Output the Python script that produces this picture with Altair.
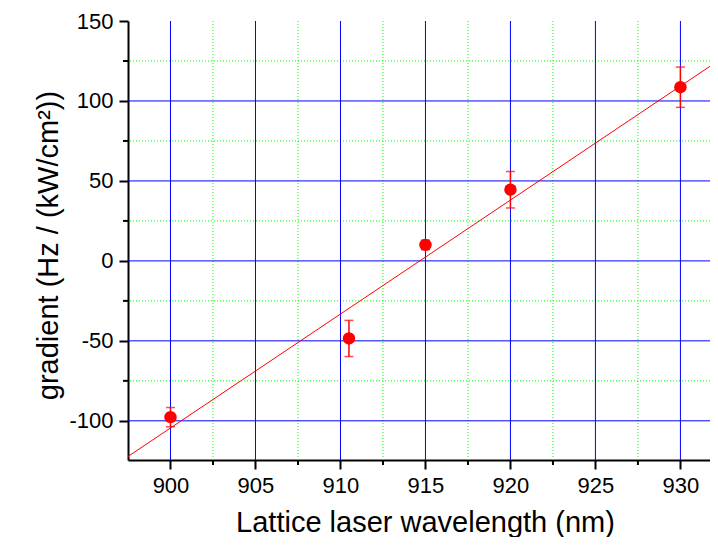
import altair as alt
import pandas as pd

# ---- data ----
wavelength = [900.0, 910.5, 915.0, 920.0, 930.0]
gradient = [-97.7, -48.5, 10.0, 44.5, 108.6]
gradient_err = [6.0, 11.3, 3.0, 11.4, 12.6]

fit_wavelength = [897.5, 932.5]
fit_gradient = [-122.3, 127.1]

x_major = [900, 905, 910, 915, 920, 925, 930]
x_minor = [902.5, 907.5, 912.5, 917.5, 922.5, 927.5]
y_major_ticks = [-100, -50, 0, 50, 100, 150]
y_major_grid = [-100, -50, 0, 50, 100]
y_minor = [-75, -25, 25, 75, 125]

X_DOMAIN = [897.5, 931.74]
Y_DOMAIN = [-124.5, 150]
W, H = 582, 439
FONT = "Liberation Sans"
RED = "#FF0000"

pts = pd.DataFrame({
    "x": wavelength,
    "y": gradient,
    "lo": [g - e for g, e in zip(gradient, gradient_err)],
    "hi": [g + e for g, e in zip(gradient, gradient_err)],
})
fit = pd.DataFrame({"x": fit_wavelength, "y": fit_gradient})
xmaj = pd.DataFrame({"x": x_major})
xmin = pd.DataFrame({"x": x_minor})
ymaj = pd.DataFrame({"y": y_major_grid})
ymin = pd.DataFrame({"y": y_minor})

xs = alt.Scale(domain=X_DOMAIN, nice=False, zero=False)
ys = alt.Scale(domain=Y_DOMAIN, nice=False, zero=False)

x_axis = alt.Axis(values=x_major, title="Lattice laser wavelength (nm)",
                  labelExpr="'' + datum.value", titlePadding=12, labelPadding=6,
                  labelFlush=False, titleX=297)
y_axis = alt.Axis(values=y_major_ticks, title="gradient (Hz / (kW/cm²))",
                  labelExpr="'' + datum.value", titlePadding=5, labelPadding=6,
                  labelFlush=False, titleY=224)


def X(field):
    return alt.X(field, type="quantitative", scale=xs, axis=x_axis)


def Y(field):
    return alt.Y(field, type="quantitative", scale=ys, axis=y_axis)


green_v = alt.Chart(xmin).mark_rule(color="#00FF00", strokeWidth=1, strokeDash=[1, 2]).encode(
    x=X("x"))
green_h = alt.Chart(ymin).mark_rule(color="#00FF00", strokeWidth=1, strokeDash=[1, 2]).encode(
    y=Y("y"))
blue_v = alt.Chart(xmaj).mark_rule(color="#0000FF", strokeWidth=1).encode(x=X("x"))
blue_h = alt.Chart(ymaj).mark_rule(color="#0000FF", strokeWidth=1).encode(y=Y("y"))

minor_tick_x = alt.Chart(xmin).mark_rule(color="black", strokeWidth=2).encode(
    x=X("x"), y=alt.value(H), y2=alt.value(H + 5))
minor_tick_y = alt.Chart(ymin).mark_rule(color="black", strokeWidth=2).encode(
    y=Y("y"), x=alt.value(0), x2=alt.value(-5))

fit_line = alt.Chart(fit).mark_line(color=RED, strokeWidth=1, clip=True).encode(
    x=X("x"), y=Y("y"))

err_rule = alt.Chart(pts).mark_rule(color=RED, strokeWidth=1.5).encode(
    x=X("x"), y=Y("lo"), y2="hi:Q")
cap_lo = alt.Chart(pts).mark_tick(color=RED, orient="horizontal", size=9, thickness=1.5).encode(
    x=X("x"), y=Y("lo"))
cap_hi = alt.Chart(pts).mark_tick(color=RED, orient="horizontal", size=9, thickness=1.5).encode(
    x=X("x"), y=Y("hi"))

points = alt.Chart(pts).mark_circle(color=RED, size=155, opacity=1).encode(
    x=X("x"), y=Y("y"))

chart = alt.layer(
    green_v, green_h, blue_v, blue_h, minor_tick_x, minor_tick_y,
    fit_line, err_rule, cap_lo, cap_hi, points
).properties(
    width=W, height=H,
    autosize=alt.AutoSizeParams(type="none"),
    padding={"left": 120, "top": 13, "right": 0, "bottom": 77},
    background="white",
).configure_view(strokeWidth=0).configure_axis(
    grid=False,
    labelFont=FONT, labelFontSize=22, labelColor="black",
    titleFont=FONT, titleFontSize=29, titleFontWeight="normal", titleColor="black",
    domainColor="black", domainWidth=2,
    tickColor="black", tickWidth=2, tickSize=9,
)

chart.save("out.html", embed_options={"renderer": "svg", "actions": False})
